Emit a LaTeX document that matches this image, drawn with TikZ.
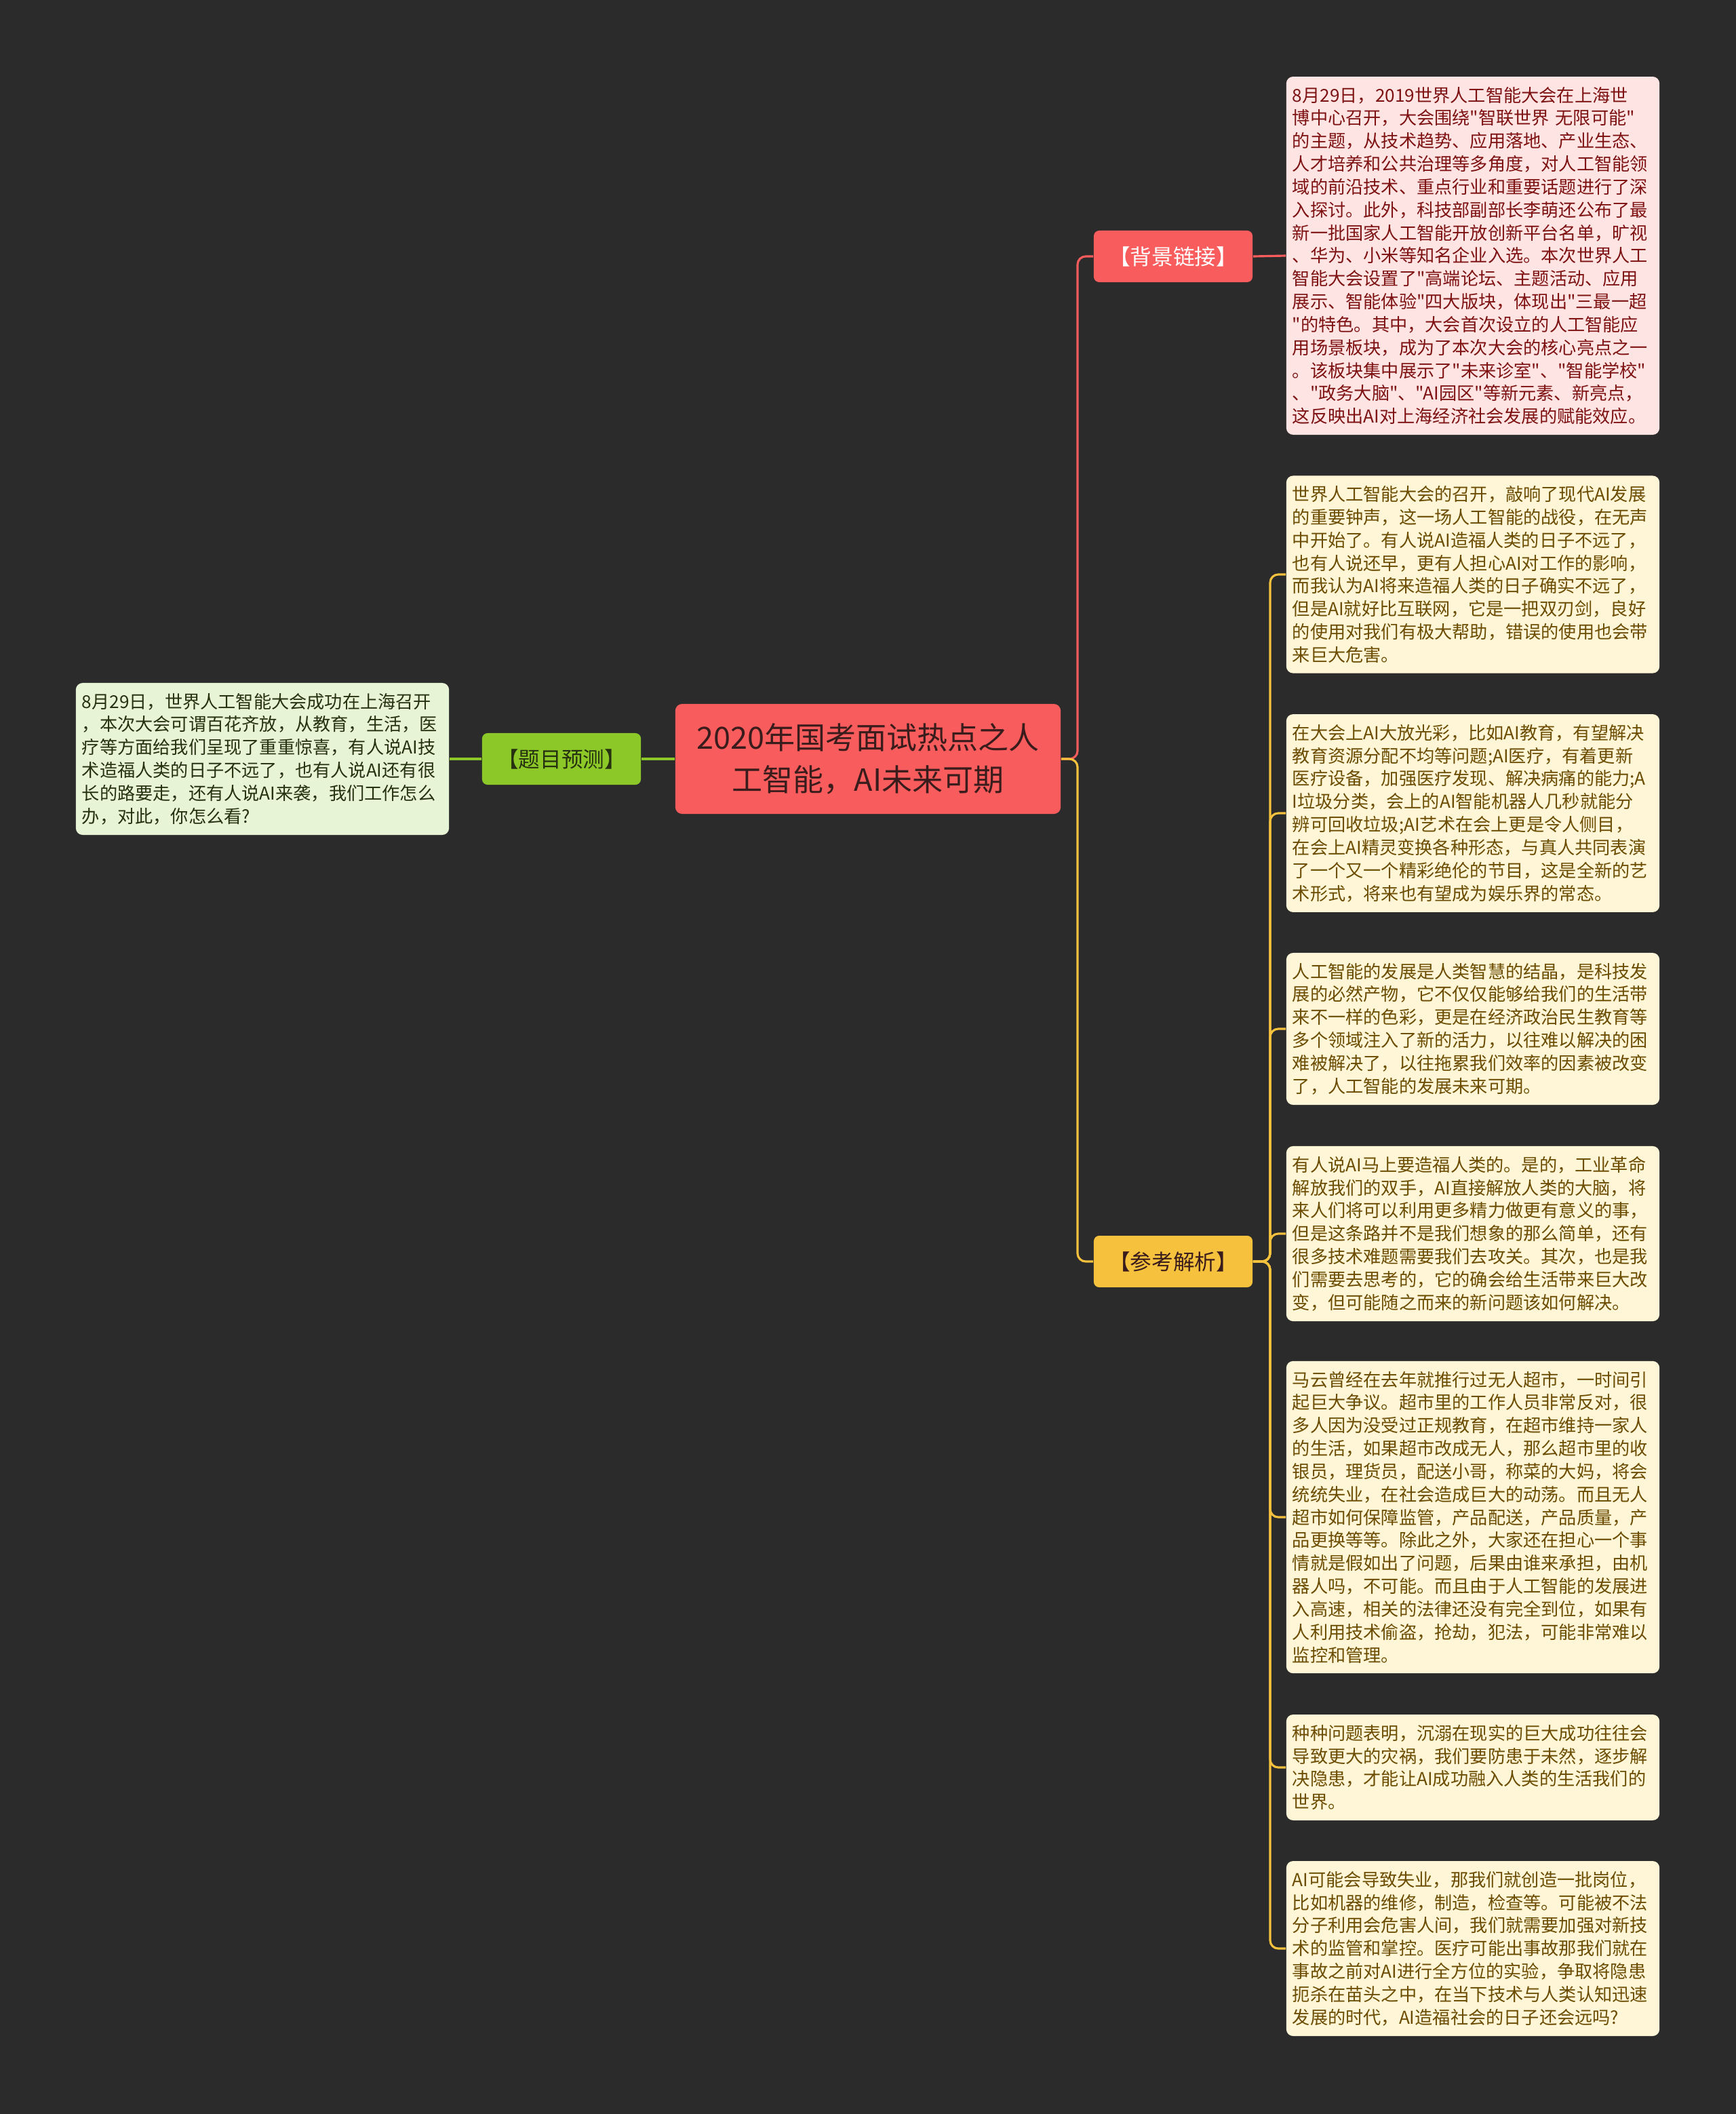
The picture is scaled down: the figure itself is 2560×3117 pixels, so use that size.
\documentclass[tikz,border=0pt]{standalone}
\usepackage{fontspec}
\usepackage{tikz}
\newfontfamily\cjk{Noto Sans CJK SC}
\definecolor{bg}{HTML}{2B2B2B}
\definecolor{rootred}{HTML}{F95C5C}
\definecolor{roottext}{HTML}{3A1C1C}
\definecolor{leafgreen}{HTML}{8CC928}
\definecolor{tagyellow}{HTML}{F6C23E}
\definecolor{pinkfill}{HTML}{FFE4E4}
\definecolor{pinktext}{HTML}{7E1212}
\definecolor{creamfill}{HTML}{FFF6D8}
\definecolor{creamtext}{HTML}{6B4C00}
\definecolor{mintfill}{HTML}{E7F4D6}
\definecolor{minttext}{HTML}{25310F}

\begin{document}
\begin{tikzpicture}[x=0.01cm,y=-0.01cm,
  every node/.style={font=\cjk},
  rootbox/.style={fill=rootred,text=roottext,rounded corners=0.1cm,minimum width=5.68cm,minimum height=1.62cm,align=center,font=\cjk\fontsize{12.8pt}{17.6pt}\selectfont},
  tagbox/.style={rounded corners=0.08cm,minimum width=2.34cm,minimum height=0.76cm,inner sep=0pt,font=\cjk\fontsize{9pt}{11pt}\selectfont},
  leafbox/.style={rounded corners=0.1cm,minimum width=5.5cm,text width=5.32cm,inner xsep=0.09cm,inner ysep=0.15cm,align=left,font=\cjk\fontsize{7.45pt}{9.62pt}\selectfont},
  link/.style={line width=0.9pt,rounded corners=0.12cm}]
  \fill[bg] (0,0) rectangle (2560,3117);
  \useasboundingbox (0,0) rectangle (2560,3117);

  \node[rootbox] (root) at (1280,1119) {2020年国考面试热点之人\\工智能，AI未来可期};
  \node[tagbox,fill=leafgreen,text=minttext] (topic) at (828,1119) {【题目预测】};
  \node[leafbox,fill=mintfill,text=minttext] (ask) at (387,1119) {8月29日，世界人工智能大会成功在上海召开\\，本次大会可谓百花齐放，从教育，生活，医\\疗等方面给我们呈现了重重惊喜，有人说AI技\\术造福人类的日子不远了，也有人说AI还有很\\长的路要走，还有人说AI来袭，我们工作怎么\\办，对此，你怎么看?};

  \node[tagbox,fill=rootred,text=white] (bg) at (1730,378) {【背景链接】};
  \node[tagbox,fill=tagyellow,text=roottext] (ana) at (1730,1860) {【参考解析】};

  \node[leafbox,fill=pinkfill,text=pinktext] (l1) at (2172,377) {8月29日，2019世界人工智能大会在上海世\\博中心召开，大会围绕"智联世界 无限可能"\\的主题，从技术趋势、应用落地、产业生态、\\人才培养和公共治理等多角度，对人工智能领\\域的前沿技术、重点行业和重要话题进行了深\\入探讨。此外，科技部副部长李萌还公布了最\\新一批国家人工智能开放创新平台名单，旷视\\、华为、小米等知名企业入选。本次世界人工\\智能大会设置了"高端论坛、主题活动、应用\\展示、智能体验"四大版块，体现出"三最一超\\"的特色。其中，大会首次设立的人工智能应\\用场景板块，成为了本次大会的核心亮点之一\\。该板块集中展示了"未来诊室"、"智能学校"\\、"政务大脑"、"AI园区"等新元素、新亮点，\\这反映出AI对上海经济社会发展的赋能效应。};

  \node[leafbox,fill=creamfill,text=creamtext] (l2) at (2172,847) {世界人工智能大会的召开，敲响了现代AI发展\\的重要钟声，这一场人工智能的战役，在无声\\中开始了。有人说AI造福人类的日子不远了，\\也有人说还早，更有人担心AI对工作的影响，\\而我认为AI将来造福人类的日子确实不远了，\\但是AI就好比互联网，它是一把双刃剑，良好\\的使用对我们有极大帮助，错误的使用也会带\\来巨大危害。};
  \node[leafbox,fill=creamfill,text=creamtext] (l3) at (2172,1199) {在大会上AI大放光彩，比如AI教育，有望解决\\教育资源分配不均等问题;AI医疗，有着更新\\医疗设备，加强医疗发现、解决病痛的能力;A\\I垃圾分类，会上的AI智能机器人几秒就能分\\辨可回收垃圾;AI艺术在会上更是令人侧目，\\在会上AI精灵变换各种形态，与真人共同表演\\了一个又一个精彩绝伦的节目，这是全新的艺\\术形式，将来也有望成为娱乐界的常态。};
  \node[leafbox,fill=creamfill,text=creamtext] (l4) at (2172,1517) {人工智能的发展是人类智慧的结晶，是科技发\\展的必然产物，它不仅仅能够给我们的生活带\\来不一样的色彩，更是在经济政治民生教育等\\多个领域注入了新的活力，以往难以解决的困\\难被解决了，以往拖累我们效率的因素被改变\\了，人工智能的发展未来可期。};
  \node[leafbox,fill=creamfill,text=creamtext] (l5) at (2172,1819) {有人说AI马上要造福人类的。是的，工业革命\\解放我们的双手，AI直接解放人类的大脑，将\\来人们将可以利用更多精力做更有意义的事，\\但是这条路并不是我们想象的那么简单，还有\\很多技术难题需要我们去攻关。其次，也是我\\们需要去思考的，它的确会给生活带来巨大改\\变，但可能随之而来的新问题该如何解决。};
  \node[leafbox,fill=creamfill,text=creamtext] (l6) at (2172,2237) {马云曾经在去年就推行过无人超市，一时间引\\起巨大争议。超市里的工作人员非常反对，很\\多人因为没受过正规教育，在超市维持一家人\\的生活，如果超市改成无人，那么超市里的收\\银员，理货员，配送小哥，称菜的大妈，将会\\统统失业，在社会造成巨大的动荡。而且无人\\超市如何保障监管，产品配送，产品质量，产\\品更换等等。除此之外，大家还在担心一个事\\情就是假如出了问题，后果由谁来承担，由机\\器人吗，不可能。而且由于人工智能的发展进\\入高速，相关的法律还没有完全到位，如果有\\人利用技术偷盗，抢劫，犯法，可能非常难以\\监控和管理。};
  \node[leafbox,fill=creamfill,text=creamtext] (l7) at (2172,2606) {种种问题表明，沉溺在现实的巨大成功往往会\\导致更大的灾祸，我们要防患于未然，逐步解\\决隐患，才能让AI成功融入人类的生活我们的\\世界。};
  \node[leafbox,fill=creamfill,text=creamtext] (l8) at (2172,2873) {AI可能会导致失业，那我们就创造一批岗位，\\比如机器的维修，制造，检查等。可能被不法\\分子利用会危害人间，我们就需要加强对新技\\术的监管和掌控。医疗可能出事故那我们就在\\事故之前对AI进行全方位的实验，争取将隐患\\扼杀在苗头之中，在当下技术与人类认知迅速\\发展的时代，AI造福社会的日子还会远吗?};

  \coordinate (hub) at (1589,1119);
  \coordinate (rstem) at (1873,0);
  \draw[link,draw=leafgreen] (root.west) -- (topic.east);
  \draw[link,draw=leafgreen] (topic.west) -- (ask.east);
  \draw[link,draw=rootred] (root.east) -- (hub) |- (bg.west);
  \draw[link,draw=tagyellow] (root.east) -- (hub) |- (ana.west);
  \draw[link,draw=rootred] (bg.east) -- (l1.west);
  \foreach \n in {l2,l3,l4,l5,l6,l7,l8}
    {\draw[link,draw=tagyellow] (ana.east) -- (ana.east -| rstem) |- (\n.west);}
\end{tikzpicture}
\end{document}
